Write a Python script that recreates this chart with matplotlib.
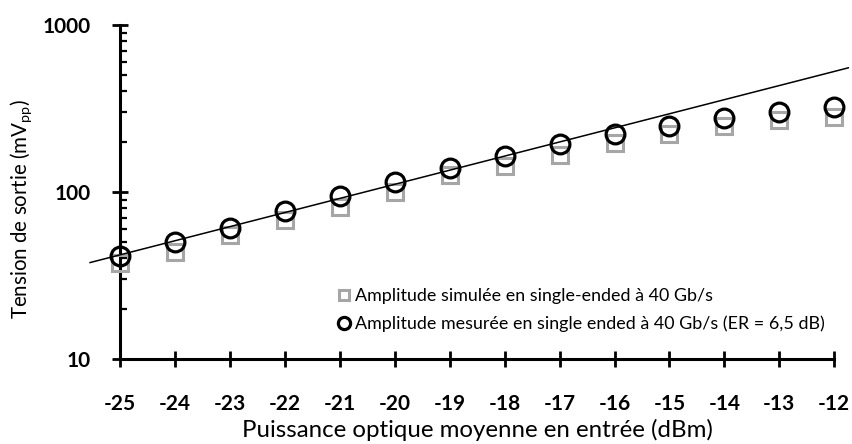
import matplotlib
matplotlib.use("Agg")
import matplotlib.pyplot as plt
from matplotlib.ticker import FixedLocator, LogLocator, NullFormatter, FixedFormatter

plt.rcParams['font.family'] = ['Lato', 'DejaVu Sans']

power_dbm = [-25, -24, -23, -22, -21, -20, -19, -18, -17, -16, -15, -14, -13, -12]
simulated_mv = [37.7, 43.9, 55.3, 67.9, 81.6, 100.4, 126.4, 143.2, 166.7, 195.9, 222.5, 248.4, 269.8, 282.5]
measured_mv = [41.4, 50.4, 61.2, 77.3, 94.6, 114.3, 139.8, 164.4, 194.5, 222.5, 248.4, 276.0, 301.0, 321.0]
trend_x = [-25.545, -11.745]
trend_mv = [37.8, 554.0]
y_ticks = [10, 100, 1000]
y_tick_labels = ["10", "100", "1000"]

label_sim = "Amplitude simulée en single-ended à 40 Gb/s"
label_meas = "Amplitude mesurée en single ended à 40 Gb/s (ER = 6,5 dB)"

fig = plt.figure(figsize=(8.52, 4.44), dpi=100)
ax = fig.add_axes([120/852, 1-359/444, (834.3-120)/852, (359-25)/444])

ax.set_yscale('log')
ax.set_xlim(-25, -12)
ax.set_ylim(10, 1000)

ax.plot(power_dbm, simulated_mv, linestyle='none', marker='s', markersize=11,
        markerfacecolor='none', markeredgecolor='#a6a6a6', markeredgewidth=2.2,
        clip_on=False, zorder=3, label=label_sim)
ax.plot(power_dbm, measured_mv, linestyle='none', marker='o', markersize=13.5,
        markerfacecolor='none', markeredgecolor='black', markeredgewidth=2.3,
        clip_on=False, zorder=4, label=label_meas)
ax.plot(trend_x, trend_mv, color='black', linewidth=1.1, clip_on=False, zorder=5)

for s in ['top', 'right']:
    ax.spines[s].set_visible(False)
for s in ['left', 'bottom']:
    ax.spines[s].set_linewidth(2.2)

ax.xaxis.set_major_locator(FixedLocator(power_dbm))
ax.set_xticklabels([str(v) for v in power_dbm])
ax.yaxis.set_major_locator(FixedLocator(y_ticks))
ax.yaxis.set_major_formatter(FixedFormatter(y_tick_labels))
ax.yaxis.set_minor_locator(LogLocator(base=10, subs=range(2, 10)))
ax.yaxis.set_minor_formatter(NullFormatter())

ax.tick_params(axis='x', which='major', direction='inout', length=12, width=2.0,
               pad=19, labelsize=15)
ax.tick_params(axis='y', which='major', direction='inout', length=12, width=2.0,
               pad=15, labelsize=15)
ax.tick_params(axis='y', which='minor', direction='in', length=5, width=1.6)
for lab in ax.get_xticklabels() + ax.get_yticklabels():
    lab.set_fontweight('bold')

ax.set_xlabel("Puissance optique moyenne en entrée (dBm)", fontsize=17.3, labelpad=4)
ax.set_ylabel("Tension de sortie (mV$_{\\mathregular{pp}}$)", fontsize=14.8)
ax.yaxis.set_label_coords(-0.121, 0.45)

leg = ax.legend(loc='upper left', bbox_to_anchor=(339/852, 1-288/444),
                bbox_transform=fig.transFigure, frameon=False, fontsize=12.9,
                handlelength=0.6, handletextpad=0.3, labelspacing=0.65,
                borderaxespad=0, borderpad=0, markerscale=0.65)

fig.savefig("out.png", dpi=100)
